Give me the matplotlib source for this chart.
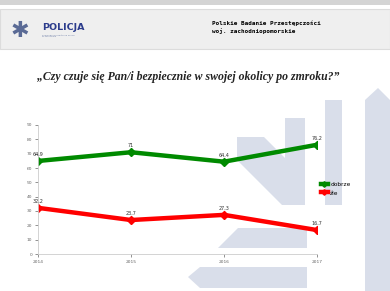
import matplotlib
matplotlib.use("Agg")
import matplotlib.pyplot as plt
from matplotlib.patches import Polygon, Rectangle

years = ["2014", "2015", "2016", "2017"]
dobrze = [64.9, 71.0, 64.4, 76.2]
zle = [32.2, 23.7, 27.3, 16.7]
dobrze_lbl = ["64,9", "71", "64,4", "76,2"]
zle_lbl = ["32,2", "23,7", "27,3", "16,7"]

W, H = 390, 291
fig = plt.figure(figsize=(3.9, 2.91), dpi=100)
fig.patch.set_facecolor("white")

# background layer in pixel coords (y from top)
bg = fig.add_axes([0, 0, 1, 1], zorder=0)
bg.set_xlim(0, W)
bg.set_ylim(H, 0)
bg.axis("off")

# header
bg.add_patch(Rectangle((0, 0), W, 5, color="#d4d4d4", lw=0))
bg.add_patch(Rectangle((0, 9), W, 40, facecolor="#efefef", edgecolor="#dcdcdc", lw=0.8))

# watermark shapes
wm = "#d9deea"
shapes = [
    [(237, 137), (264, 137), (305, 178), (305, 205), (282, 205), (237, 160)],
    [(285, 118), (305, 118), (305, 205), (285, 205)],
    [(325, 100), (342, 100), (342, 205), (325, 205)],
    [(365, 100), (378, 88), (390, 100), (390, 291), (365, 291)],
    [(238, 228), (307, 228), (307, 248), (218, 248)],
    [(200, 267), (307, 267), (307, 288), (200, 288), (188, 277)],
]
for s in shapes:
    bg.add_patch(Polygon(s, closed=True, color=wm, lw=0))

# logo
bg.text(20, 31, "✱", fontsize=16, color="#5a6a95", ha="center", va="center")
bg.text(42, 28, "POLICJA", fontsize=6.8, fontweight="bold", color="#2c3c8c",
        va="center", ha="left")
bg.text(42, 36, "Komenda Wojewódzka Policji\nw Szczecinie", fontsize=1.6,
        color="#7080a8", va="center", ha="left", linespacing=1.2)

bg.text(212, 23, "Polskie Badanie Przestępczości", fontsize=4.3,
        fontweight="bold", family="DejaVu Sans Mono", va="center", ha="left")
bg.text(212, 31, "woj. zachodniopomorskie", fontsize=4.3,
        fontweight="bold", family="DejaVu Sans Mono", va="center", ha="left")

bg.text(188, 77, "„Czy czuje się Pan/i bezpiecznie w swojej okolicy po zmroku?”",
        fontsize=8.5, fontstyle="italic", fontweight="bold",
        family="Liberation Serif", ha="center", va="center", color="#222222")

# chart
ax = fig.add_axes([38 / W, 37 / H, (317 - 38) / W, (254 - 125) / H], zorder=2)
ax.patch.set_alpha(0)
x = range(len(years))
ax.plot(x, dobrze, color="#008a00", lw=3.2, marker="D", ms=4, label="dobrze")
ax.plot(x, zle, color="#ff0000", lw=3.2, marker="D", ms=4, label="źle")
for i in x:
    ax.text(i, dobrze[i] + 3, dobrze_lbl[i], fontsize=3.5, ha="center",
            va="bottom", color="#333333")
    ax.text(i, zle[i] + 3, zle_lbl[i], fontsize=3.5, ha="center",
            va="bottom", color="#333333")

ax.set_xlim(0, 3)
ax.set_ylim(0, 90)
ax.set_yticks(range(0, 91, 10))
ax.set_xticks(list(x))
ax.set_xticklabels(years)
ax.tick_params(labelsize=3.2, colors="#666666", length=2, width=0.5, pad=2)
for sp in ["top", "right"]:
    ax.spines[sp].set_visible(False)
ax.spines["left"].set_color("#cccccc")
ax.spines["bottom"].set_color("#cccccc")
ax.spines["left"].set_linewidth(0.6)
ax.spines["bottom"].set_linewidth(0.6)

ax.legend(loc="upper left", bbox_to_anchor=(0.995, 0.6), frameon=False,
          fontsize=4.2, handlelength=1.2, markerscale=0.7,
          handletextpad=0.4, labelspacing=0.6)

fig.savefig("out.png", dpi=100)
